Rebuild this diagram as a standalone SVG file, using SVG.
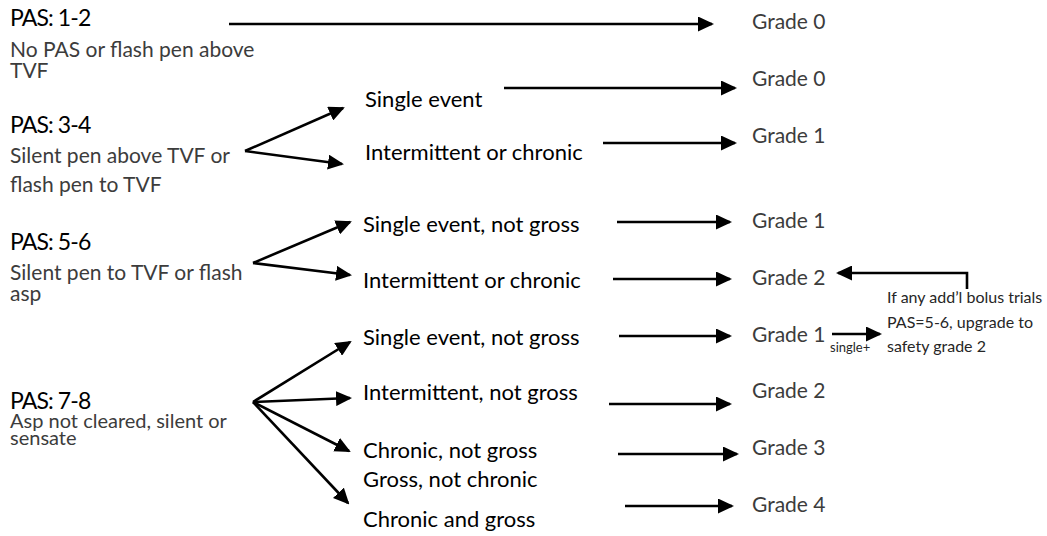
<svg xmlns="http://www.w3.org/2000/svg" width="1047" height="536" viewBox="0 0 1047 536">
<style>
text{font-family:Lato,"Open Sans","Liberation Sans",sans-serif}
.h{font-size:23px;fill:#000;letter-spacing:-0.9px}
.d{font-size:21px;fill:#3c3c3c}
.t{font-size:20px;fill:#3c3c3c}
.m{font-size:22px;fill:#000}
.g{font-size:21px;fill:#3c3c3c}
.a{font-size:16px;fill:#262626}
.s{font-size:13px;fill:#262626}
.c line,.c polyline{stroke:#000;stroke-width:2.6;fill:none;marker-end:url(#ah)}
</style>
<defs>
<marker id="ah" markerUnits="userSpaceOnUse" markerWidth="16" markerHeight="15" viewBox="0 0 16 15" refX="14" refY="7.5" orient="auto">
<path d="M0,0 L16,7.5 L0,15 z" fill="#000"/>
</marker>
</defs>
<rect width="1047" height="536" fill="#fff"/>
<g id="pas12"><text class="h" x="10" y="26">PAS: 1-2</text><text class="d" x="10" y="57">No PAS or flash pen above</text><text class="d" x="10" y="78">TVF</text></g>
<g id="pas34"><text class="h" x="10" y="133">PAS: 3-4</text><text class="d" x="10" y="163">Silent pen above TVF or</text><text class="d" x="10" y="192">flash pen to TVF</text></g>
<g id="pas56"><text class="h" x="10" y="250">PAS: 5-6</text><text class="d" x="10" y="280">Silent pen to TVF or flash</text><text class="d" x="10" y="301">asp</text></g>
<g id="pas78"><text class="h" x="10" y="409">PAS: 7-8</text><text class="t" x="10" y="428">Asp not cleared, silent or</text><text class="t" x="10" y="445">sensate</text></g>
<g id="m1"><text class="m" x="365" y="107">Single event</text></g>
<g id="m2"><text class="m" x="365" y="160">Intermittent or chronic</text></g>
<g id="m3"><text class="m" x="363" y="232">Single event, not gross</text></g>
<g id="m4"><text class="m" x="363" y="288">Intermittent or chronic</text></g>
<g id="m5"><text class="m" x="363" y="345">Single event, not gross</text></g>
<g id="m6"><text class="m" x="363" y="400">Intermittent, not gross</text></g>
<g id="m7"><text class="m" x="363" y="458">Chronic, not gross</text><text class="m" x="363" y="487">Gross, not chronic</text></g>
<g id="m8"><text class="m" x="363" y="527">Chronic and gross</text></g>
<g id="g1"><text class="g" x="752" y="29">Grade 0</text></g>
<g id="g2"><text class="g" x="752" y="86">Grade 0</text></g>
<g id="g3"><text class="g" x="752" y="143">Grade 1</text></g>
<g id="g4"><text class="g" x="752" y="228">Grade 1</text></g>
<g id="g5"><text class="g" x="752" y="285">Grade 2</text></g>
<g id="g6"><text class="g" x="752" y="342">Grade 1</text></g>
<g id="g7"><text class="g" x="752" y="398">Grade 2</text></g>
<g id="g8"><text class="g" x="752" y="455">Grade 3</text></g>
<g id="g9"><text class="g" x="752" y="512">Grade 4</text></g>
<g id="note"><text class="a" x="887" y="303">If any add’l bolus trials</text><text class="a" x="887" y="328">PAS=5-6, upgrade to</text><text class="a" x="887" y="352">safety grade 2</text></g>
<g id="connectors" class="c">
<line x1="229" y1="24" x2="712" y2="24"/>
<line x1="504" y1="88" x2="735" y2="88"/>
<line x1="603" y1="143" x2="735" y2="143"/>
<line x1="245" y1="151" x2="343" y2="108"/>
<line x1="245" y1="151" x2="342" y2="164"/>
<line x1="253" y1="263" x2="350" y2="222"/>
<line x1="253" y1="263" x2="350" y2="275"/>
<line x1="617" y1="222" x2="730" y2="222"/>
<line x1="613" y1="279" x2="730" y2="279"/>
<line x1="619" y1="336" x2="730" y2="336"/>
<line x1="253" y1="402" x2="350" y2="342"/>
<line x1="253" y1="402" x2="350" y2="398"/>
<line x1="253" y1="402" x2="349" y2="451"/>
<line x1="253" y1="402" x2="348" y2="503"/>
<line x1="609" y1="404" x2="730" y2="404"/>
<line x1="618" y1="454" x2="737" y2="454"/>
<line x1="625" y1="506" x2="732" y2="506"/>
<polyline points="967,289 967,273 838,273"/>
<line x1="832" y1="334" x2="880" y2="334"/>
</g>
<g id="single"><text class="s" x="830" y="352">single+</text></g>
</svg>
